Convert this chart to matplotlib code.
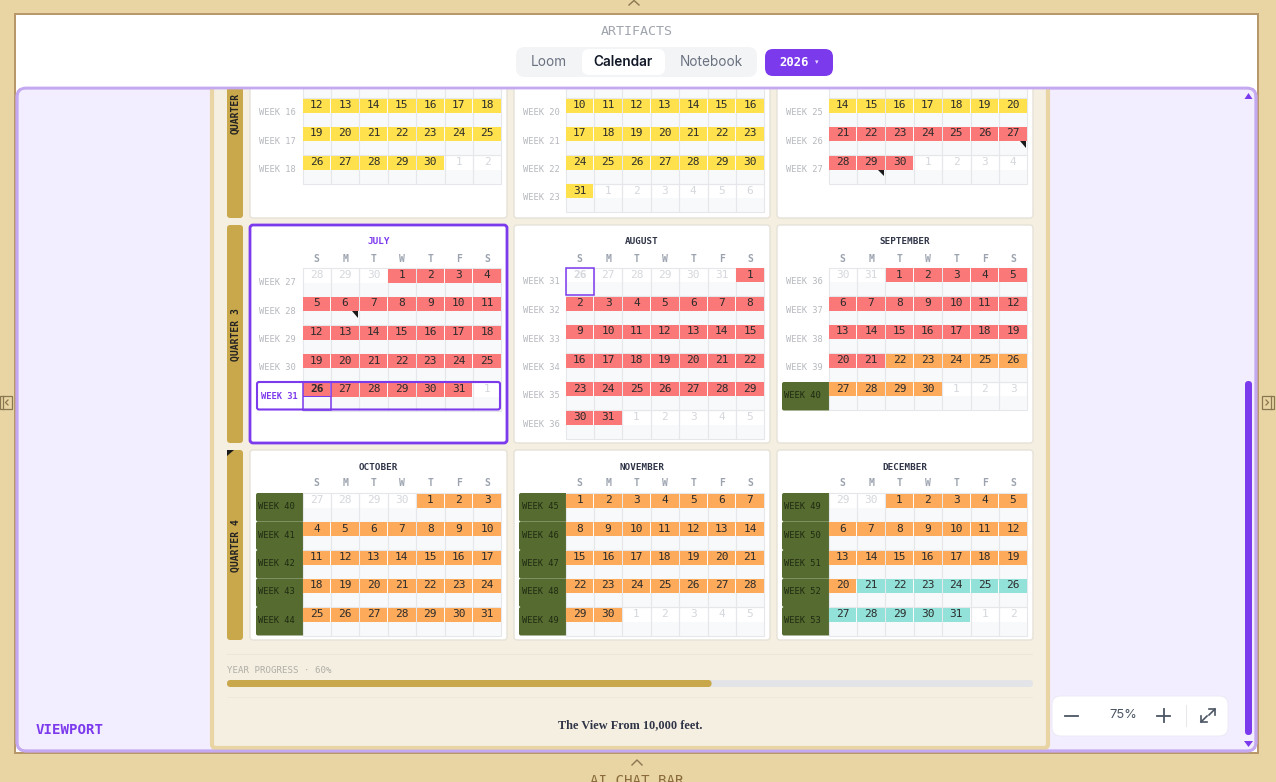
import matplotlib
matplotlib.use('Agg')
import matplotlib.pyplot as plt
from matplotlib.patches import Rectangle, FancyBboxPatch, Polygon

# month tables, top row of the calendar is scrolled out of view
month_names = ['APRIL', 'MAY', 'JUNE', 'JULY', 'AUGUST', 'SEPTEMBER',
               'OCTOBER', 'NOVEMBER', 'DECEMBER']
first_weeks = [14, 18, 23, 27, 31, 36, 40, 45, 49]
leading_days = [3, 5, 1, 3, 6, 2, 4, 0, 2]
month_lengths = [30, 31, 30, 31, 31, 30, 31, 30, 31]
prev_lengths = [31, 30, 31, 30, 31, 31, 30, 31, 30]
row_counts = [5, 6, 5, 5, 6, 5, 5, 5, 5]
week_days = ['S', 'M', 'T', 'W', 'T', 'F', 'S']
# month index and day each colour band starts on
season_starts = [(2, 21), (5, 22), (8, 21)]
season_colors = ['#ffe14d', '#fb7878', '#fdab5b', '#93e2da']
flagged_days = [(2, 27), (2, 29), (3, 6)]
progress = 60

PURPLE = '#7c3aed'
GOLD = '#c9a84c'
OLIVE = '#556b2f'
TAN = '#e8d5a3'
BROWN = '#b8976a'
HANDLE = '#8a7650'
MONO = 'DejaVu Sans Mono'
VIEW_TOP = 88

fig = plt.figure(figsize=(12.76, 7.82), dpi=100)
ax = fig.add_axes([0, 0, 1, 1])
ax.set_xlim(0, 1276)
ax.set_ylim(782, 0)
ax.axis('off')


def rect(x, y, w, h, color, z=1):
    ax.add_patch(Rectangle((x, y), w, h, facecolor=color, edgecolor='none', zorder=z))


def rbox(x, y, w, h, r, face, edge='none', lw=0, z=1):
    p = FancyBboxPatch((x + r, y + r), w - 2 * r, h - 2 * r, boxstyle=f'round,pad={r},rounding_size={r}',
                       facecolor=face, edgecolor=edge, linewidth=lw, zorder=z)
    ax.add_patch(p)
    return p


def label(x, y, s, size=6, color='#333333', weight='normal', ha='center', family=MONO, z=6, **kw):
    return ax.text(x, y, s, fontsize=size, color=color, fontweight=weight, ha=ha, va='center',
                   family=family, zorder=z, **kw)


def season_color(m, day):
    idx = 0
    for sm, sd in season_starts:
        if (m, day) >= (sm, sd):
            idx += 1
    return season_colors[idx]


# page frame
rect(0, 0, 1276, 782, TAN, 0)
rect(14, 13, 1245, 741, BROWN, 0.5)
rect(16, 15, 1241, 737, 'white', 0.6)
rbox(17, VIEW_TOP, 1239, 663, 9, '#f3eeff', '#c4a8f0', 2, 0.7)
rbox(212, 80, 836, 668, 4, '#f5efe2', TAN, 3, 0.8)

card_x = [250, 514, 777]
card_w = [257, 256, 256]
row_tops = [10, 225, 450]
row_bottoms = [218, 443, 640]
grid_tops = [41, 268, 493]
title_y = [10, 242, 467]

# quarter tabs
for top, bottom in zip(row_tops, row_bottoms):
    rbox(227, top, 16, bottom - top, 3, GOLD, z=1)
label(235.5, 113.5, 'QUARTER', 7, '#222222', 'bold', rotation=90, z=3)
label(235.5, 334.5, 'QUARTER 3', 7, '#222222', 'bold', rotation=90, z=3)
label(235.5, 546, 'QUARTER 4', 7, '#222222', 'bold', rotation=90, z=3)
ax.add_patch(Polygon([(227, 450), (234, 450), (227, 456)], facecolor='#1a1a1a', zorder=3))

cell_w = 28.4
row_h = 28.5
for m, name in enumerate(month_names):
    r, c = m // 3, m % 3
    cx = card_x[c]
    active = name == 'JULY'
    if active:
        rbox(cx, row_tops[r], card_w[c], row_bottoms[r] - row_tops[r], 3, 'white', PURPLE, 2, 1)
    else:
        rbox(cx, row_tops[r], card_w[c], row_bottoms[r] - row_tops[r], 3, 'white', '#e6e2d8', 1, 1)
    gx = cx + (52.5 if c == 0 else 51.5)
    gy = grid_tops[r] - (0.5 if r == 1 and c > 0 else 0)
    if title_y[r] > VIEW_TOP:
        title_col = PURPLE if active else '#2f3447'
        label(cx + card_w[c] / 2, title_y[r], name, 6.7, title_col, 'bold', z=3)
        for d, wd in enumerate(week_days):
            label(gx + cell_w * (d + 0.5), title_y[r] + 16.5, wd, 7, '#9ca3af', 'bold', z=3)
    day = 1 - leading_days[m]
    for w in range(row_counts[m]):
        y = gy + w * row_h
        week_no = first_weeks[m] + w
        if r == 2 or name == 'SEPTEMBER' and w == 4 or y + 14 < VIEW_TOP:
            pass
        else:
            col = PURPLE if active and w == 4 else '#b5b8bd'
            wt = 'bold' if active and w == 4 else 'normal'
            label(cx + (11 if active and w == 4 else 9), y + 14.5, f'WEEK {week_no}', 6.3, col, wt, ha='left', z=3)
        for d in range(7):
            x = gx + d * cell_w
            rect(x, y, cell_w, row_h, '#f8f9fa', 1.5)
            rect(x, y, cell_w, 14.5, 'white', 1.6)
            ax.add_patch(Rectangle((x, y), cell_w, row_h, facecolor='none', edgecolor='#e5e7eb', lw=0.8, zorder=1.7))
            if 1 <= day <= month_lengths[m]:
                rect(x + 0.5, y + 0.5, cell_w - 1, 14, season_color(m, day), 2)
                shown = day
                color = '#2b2b2b'
            else:
                shown = day + prev_lengths[m] if day < 1 else day - month_lengths[m]
                color = '#d4d7dc'
            today = active and day == 26
            ghost_today = name == 'AUGUST' and shown == 26 and day < 1
            if y + 7 > VIEW_TOP:
                label(x + cell_w / 2, y + 7, str(shown), 8, color, 'bold' if today or ghost_today else 'normal', z=3)
            if (m, day) in flagged_days:
                ax.add_patch(Polygon([(x + 21, y + 14.5), (x + 27.5, y + 14.5), (x + 27.5, y + 21)],
                                     facecolor='#1a1a1a', zorder=3))
            if today or ghost_today:
                ax.add_patch(Rectangle((x, y), cell_w, 27.5, facecolor='none', edgecolor=PURPLE, lw=1.1, zorder=4))
                rect(x, y + 14, cell_w, 0.8, PURPLE, 4)
            day += 1

# highlighted weeks, one rounded block per row sitting under the grid
for m, gx0 in [(5, 782), (6, 256), (7, 519), (8, 782)]:
    r = m // 3
    for w in range(row_counts[m]):
        if m == 5 and w != 4:
            continue
        y = grid_tops[r] + w * row_h
        rbox(gx0, y, 50, row_h, 2, OLIVE, z=1.4)
        label(gx0 + 2.5, y + 13.5, f'WEEK {first_weeks[m] + w}', 6.3, '#1f2a12', ha='left', z=3)

# current week outline
rbox(257, 382, 243, 27.5, 2, 'none', PURPLE, 1.5, 4)

# everything above the viewport covers the scrolled rows
rect(0, 0, 1276, 13, TAN, 7)
rect(14, 13, 1245, 2, BROWN, 7)
rect(16, 15, 1241, VIEW_TOP - 15.5, 'white', 7)
rbox(17, VIEW_TOP, 1239, 663, 9, 'none', '#c4a8f0', 2, 7.5)

# progress
rect(227, 654, 806, 1, '#ece6d6', 2)
label(227, 670.5, f'YEAR PROGRESS · {progress}%', 6.6, '#b0aea6', ha='left')
rbox(227, 680, 806, 7, 3.5, '#e3e4e8', z=2)
rbox(227, 680, 806 * progress / 100 + 1, 7, 3.5, GOLD, z=3)
rect(227, 697, 806, 1, '#efe9dc', 2)
label(630, 725.5, 'The View From 10,000 feet.', 8.8, '#2f3447', 'bold', family='Liberation Serif')

# header
label(636.5, 31.5, 'ARTIFACTS', 9.6, '#a0a4ad', z=9)
rbox(516, 47, 241, 30, 9, '#f3f4f6', z=8)
rbox(582, 49, 83, 26, 7, 'white', z=8.5)
label(549, 61.5, 'Loom', 9.8, '#6b7280', family='Inter', z=9)
label(623.5, 61.5, 'Calendar', 9.8, '#111827', 'semibold', family='Inter', z=9)
label(711, 61.5, 'Notebook', 9.8, '#6b7280', family='Inter', z=9)
rbox(765, 49, 68, 27, 8, PURPLE, z=8)
label(794, 62, '2026', 8.8, 'white', 'bold', z=9)
label(817, 62.5, '▾', 5, '#e9ddff', family='DejaVu Sans', z=9)

# frame handles
ax.plot([629, 634, 639], [5, 0.5, 5], color=HANDLE, lw=1, zorder=9)
ax.plot([632, 637, 642], [765, 760, 765], color=HANDLE, lw=1, zorder=9)
label(637, 781, 'AI CHAT BAR', 10.2, '#8a6a3a', z=9)
ax.add_patch(Rectangle((0, 396), 12, 13, facecolor='none', edgecolor=HANDLE, lw=0.9, zorder=9))
ax.plot([3, 3], [396, 409], color=HANDLE, lw=0.9, zorder=9)
ax.plot([8, 5.5, 8], [400, 402.5, 405], color=HANDLE, lw=0.9, zorder=9)
ax.add_patch(Rectangle((1262, 396), 12, 13, facecolor='none', edgecolor=HANDLE, lw=0.9, zorder=9))
ax.plot([1271, 1271], [396, 409], color=HANDLE, lw=0.9, zorder=9)
ax.plot([1266, 1268.5, 1266], [400, 402.5, 405], color=HANDLE, lw=0.9, zorder=9)

label(70, 730.5, 'VIEWPORT', 10.2, PURPLE, 'bold')

# scroll bar
rbox(1245, 381, 7, 354, 3.5, PURPLE, z=9)
ax.add_patch(Polygon([(1244.5, 99), (1252.5, 99), (1248.5, 93)], facecolor=PURPLE, zorder=9))
ax.add_patch(Polygon([(1244, 741), (1253, 741), (1248.5, 747)], facecolor=PURPLE, zorder=9))

# zoom control
rbox(1052, 696, 176, 40, 9, 'white', '#ede9f5', 0.6, 9)
ax.plot([1065, 1078], [715.5, 715.5], color='#4b5563', lw=1.3, zorder=10)
ax.plot([1157, 1170], [715.5, 715.5], color='#4b5563', lw=1.3, zorder=10)
ax.plot([1163.5, 1163.5], [709, 722], color='#4b5563', lw=1.3, zorder=10)
label(1123, 715.5, '75%', 9.3, '#4b5563', family='Inter', z=10)
rect(1185.5, 705, 1, 22, '#e5e7eb', 10)
ax.plot([1209, 1215, 1215], [709, 709, 715], color='#4b5563', lw=1.2, zorder=10)
ax.plot([1215, 1209], [709, 715], color='#4b5563', lw=1.2, zorder=10)
ax.plot([1201, 1201, 1207], [716, 722, 722], color='#4b5563', lw=1.2, zorder=10)
ax.plot([1201, 1207], [722, 716], color='#4b5563', lw=1.2, zorder=10)

fig.savefig('out.png', dpi=100)
